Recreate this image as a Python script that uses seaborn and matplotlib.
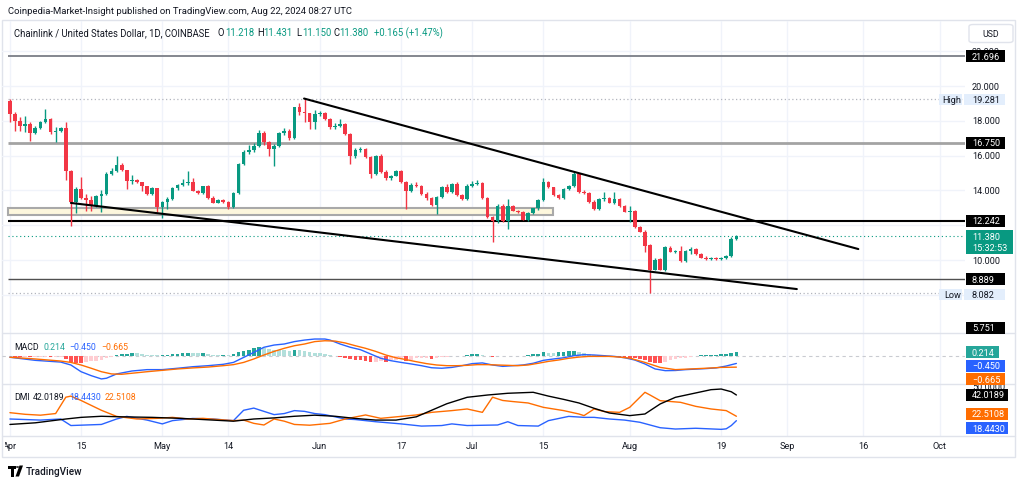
import numpy as np
import pandas as pd
import matplotlib
matplotlib.use("Agg")
import matplotlib.pyplot as plt
import seaborn as sns
from matplotlib.patches import Rectangle, FancyBboxPatch, Polygon, Circle
from matplotlib.transforms import Bbox, blended_transform_factory

# ---------------- data ----------------
start_date = "2024-04-01"
opens = [19.16,18.39,17.97,17.68,17.82,17.30,17.57,17.95,18.10,17.34,
         17.43,17.57,15.13,13.32,14.08,13.55,13.45,13.09,13.68,13.80,
         14.94,15.13,15.46,15.17,14.52,14.62,14.46,14.24,13.78,14.12,
         13.03,13.35,13.50,14.12,14.33,14.40,14.46,13.98,13.85,14.24,
         13.55,13.30,13.42,13.35,13.03,13.85,15.52,16.23,16.34,16.57,
         17.28,16.76,16.38,16.57,17.28,17.43,16.99,18.77,18.52,18.43,
         17.91,18.39,18.43,18.10,17.62,17.72,17.82,17.24,15.95,16.34,
         16.38,15.90,14.94,15.95,15.04,14.69,14.85,15.13,14.50,13.98,
         14.31,14.25,13.79,13.54,13.16,13.60,14.18,13.89,14.37,13.74,
         13.51,14.27,14.37,14.43,13.56,12.45,12.26,13.12,12.26,13.12,
         12.84,12.74,12.32,12.70,12.97,13.47,14.46,14.18,13.74,13.54,
         14.08,14.24,14.94,13.93,13.85,13.35,12.93,13.51,13.54,13.28,
         13.51,13.12,12.78,12.84,11.88,11.63,10.86,9.44,10.06,9.44,
         10.67,10.48,10.54,9.96,10.54,10.63,10.34,10.13,10.06,10.11,
         10.06,10.11,10.25,11.218]
highs = [19.28,18.49,18.20,18.29,17.91,17.68,18.01,18.68,18.14,17.63,
         17.63,17.91,15.20,14.18,14.75,13.79,13.66,13.75,14.00,15.04,
         15.26,16.00,15.57,15.20,14.89,14.65,14.50,14.28,14.20,14.16,
         13.40,13.60,14.20,14.38,14.66,15.13,14.70,14.05,14.28,14.30,
         13.65,13.50,13.50,13.40,13.90,15.60,16.30,16.60,16.70,17.45,
         17.40,16.85,16.65,17.35,17.60,17.55,18.80,19.00,19.28,18.45,
         18.64,18.55,18.50,18.15,17.85,18.10,17.90,17.30,16.45,16.50,
         16.45,15.95,16.05,16.10,15.15,14.90,15.20,15.20,14.55,14.40,
         14.50,14.30,13.90,13.60,13.70,14.25,14.35,14.45,14.50,13.80,
         14.35,14.55,14.62,14.50,13.62,12.55,13.20,13.20,13.51,13.15,
         12.90,12.80,12.75,13.00,13.50,14.69,14.55,14.22,13.80,14.15,
         14.30,15.08,15.00,14.00,13.90,13.45,13.55,13.89,13.60,13.89,
         13.55,13.15,13.09,12.90,11.95,11.70,10.90,10.10,10.10,10.80,
         10.80,10.58,10.79,10.60,10.73,10.70,10.40,10.25,10.20,10.20,
         10.20,10.30,11.30,11.431]
lows = [17.91,17.43,17.39,17.36,16.86,17.22,17.53,17.90,17.24,16.80,
        17.34,14.62,11.97,12.70,13.50,12.84,12.84,13.05,12.78,13.76,
        14.88,15.04,15.13,14.08,14.37,14.40,13.98,13.72,13.72,12.74,
        12.40,12.93,13.45,14.05,14.28,14.30,13.95,13.80,13.80,13.50,
        13.28,13.25,13.30,12.95,12.97,13.80,15.45,16.10,16.20,16.50,
        16.60,16.00,15.42,16.50,17.20,16.90,16.95,18.35,17.95,17.53,
        17.53,18.30,18.05,17.55,17.55,17.65,17.20,15.52,15.85,16.20,
        15.85,14.69,14.90,15.00,14.60,14.60,14.80,14.45,12.93,13.90,
        14.20,13.75,13.45,13.10,12.64,13.55,13.85,13.85,13.70,13.45,
        13.45,14.20,14.30,13.50,12.40,11.02,12.10,12.20,11.78,12.80,
        12.70,12.28,12.25,12.65,12.90,13.40,14.15,13.70,13.50,13.50,
        14.00,14.20,13.85,13.80,13.30,12.88,12.85,13.40,13.25,13.20,
        13.05,12.75,12.16,11.85,11.60,10.44,8.082,9.40,9.40,9.38,
        10.45,10.40,9.90,9.90,10.34,10.30,10.10,10.00,10.00,10.00,
        10.00,10.05,10.20,11.150]
closes = [18.39,17.97,17.68,17.82,17.30,17.57,17.95,18.10,17.34,17.43,
          17.57,15.13,13.32,14.08,13.55,13.45,13.09,13.68,13.80,14.94,
          15.13,15.46,15.17,14.52,14.62,14.46,14.24,13.78,14.12,13.03,
          13.35,13.50,14.12,14.33,14.40,14.46,13.98,13.85,14.24,13.55,
          13.30,13.42,13.35,13.03,13.85,15.52,16.23,16.34,16.57,17.28,
          16.76,16.38,16.57,17.28,17.43,16.99,18.77,18.52,18.43,17.91,
          18.39,18.43,18.10,17.62,17.72,17.82,17.24,15.95,16.34,16.38,
          15.90,14.94,15.95,15.04,14.69,14.85,15.13,14.50,13.98,14.31,
          14.25,13.79,13.54,13.16,13.60,14.18,13.89,14.37,13.74,13.51,
          14.27,14.37,14.43,13.56,12.45,12.26,13.12,12.26,13.12,12.84,
          12.74,12.32,12.70,12.97,13.47,14.46,14.18,13.74,13.54,14.08,
          14.24,14.94,13.93,13.85,13.35,12.93,13.51,13.54,13.28,13.51,
          13.12,12.78,12.84,11.88,11.63,10.82,9.44,10.02,9.44,10.73,
          10.48,10.54,9.96,10.54,10.63,10.34,10.13,10.06,10.11,10.06,
          10.11,10.25,11.218,11.380]

macd_hist = [-0.04,-0.06,-0.08,-0.07,-0.09,-0.08,-0.06,-0.05,-0.07,-0.06,
             -0.05,-0.19,-0.39,-0.43,-0.44,-0.35,-0.31,-0.29,-0.23,-0.15,
             -0.05,0.03,0.08,0.12,0.14,0.13,0.10,0.07,0.05,0.02,
             0.02,0.06,0.08,0.12,0.16,0.17,0.16,0.14,0.14,0.10,
             0.06,0.04,0.04,0.02,0.08,0.19,0.29,0.35,0.43,0.48,
             0.45,0.39,0.35,0.33,0.31,0.27,0.35,0.31,0.27,0.21,
             0.17,0.16,0.12,0.06,-0.04,-0.08,-0.12,-0.19,-0.23,-0.25,
             -0.29,-0.39,-0.35,-0.31,-0.35,-0.27,-0.23,-0.19,-0.31,-0.23,
             -0.15,-0.14,-0.12,-0.17,-0.12,-0.08,-0.06,-0.04,-0.04,-0.02,
             0.06,0.10,0.12,0.06,-0.04,-0.08,-0.04,-0.04,-0.02,-0.02,
             -0.02,-0.01,0.06,0.08,0.12,0.19,0.16,0.14,0.19,0.23,
             0.25,0.29,0.23,0.17,0.12,0.06,0.04,0.02,0.01,-0.02,
             -0.06,-0.10,-0.12,-0.15,-0.19,-0.27,-0.35,-0.41,-0.43,-0.35,
             -0.27,-0.21,-0.15,-0.12,-0.08,-0.04,0.02,0.04,0.05,0.06,
             0.08,0.10,0.17,0.214]

macd_days = [0,5,10,12,14,16,18,19,21,24,27,30,33,36,39,42,44,46,48,50,
             52,54,56,58,60,62,63,65,67,69,71,73,75,77,79,81,83,85,87,89,
             91,93,95,97,99,101,103,105,107,109,111,113,115,117,119,121,123,125,127,129,
             131,133,135,137,139,141,143]
macd_line = [-0.09,-0.27,-0.37,-0.54,-0.93,-1.16,-1.35,-1.31,-1.06,-0.89,
             -0.81,-0.81,-0.73,-0.64,-0.58,-0.50,-0.39,-0.10,0.19,0.49,
             0.62,0.68,0.82,0.91,0.97,0.97,0.91,0.68,0.49,0.35,
             0.10,-0.15,-0.29,-0.39,-0.48,-0.58,-0.70,-0.73,-0.68,-0.58,
             -0.46,-0.42,-0.54,-0.62,-0.58,-0.54,-0.44,-0.27,-0.19,-0.12,
             0.00,0.06,0.04,0.00,-0.04,-0.12,-0.25,-0.48,-0.77,-0.87,
             -0.86,-0.81,-0.78,-0.75,-0.71,-0.60,-0.450]
signal_days = [0,5,10,12,14,16,18,20,22,24,27,30,33,36,39,42,44,46,48,50,
               52,54,56,58,60,62,64,66,68,70,72,74,76,78,80,82,84,86,88,90,
               92,94,96,98,100,102,104,106,108,110,112,114,116,118,120,122,125,128,131,134,
               137,140,143]
signal_line = [-0.09,-0.19,-0.31,-0.39,-0.54,-0.73,-0.93,-1.06,-1.08,-1.02,
               -0.93,-0.85,-0.77,-0.71,-0.66,-0.58,-0.52,-0.39,-0.19,0.04,
               0.25,0.43,0.58,0.68,0.82,0.87,0.85,0.74,0.58,0.43,
               0.25,0.04,-0.12,-0.23,-0.35,-0.46,-0.54,-0.58,-0.58,-0.56,
               -0.52,-0.52,-0.54,-0.56,-0.58,-0.54,-0.44,-0.33,-0.25,-0.15,
               -0.08,-0.04,-0.04,-0.04,-0.08,-0.14,-0.39,-0.68,-0.81,-0.77,
               -0.73,-0.68,-0.665]

adx_days = [0,5,11,14,18,22,28,34,40,44,48,52,56,60,64,68,72,76,80,83,
            86,90,94,98,103,106,109,112,115,118,122,125,128,131,135,138,140,142,143]
adx_vals = [15,16.5,20,21.5,22.5,22,21.5,20.5,19,18,20,21,22.5,23.5,22.5,20.5,19,19,22,28,
            34,39.9,42,43.6,44.5,41,38,34.7,29.8,25.5,23.1,24.6,33.8,39.9,43.9,46.9,47.5,45,42.0189]
mdi_days = [0,3,6,9,11,12,14,18,21,25,29,32,35,38,41,44,46,48,50,52,
            54,56,59,63,66,70,73,77,80,83,87,90,93,95,97,99,102,105,109,112,
            113,115,117,120,122,125,126,128,132,135,138,141,143]
mdi_vals = [25.8,24.3,23.5,25,40,41,37,28,22.4,20,20.6,21.5,20,20.6,19.5,18.5,19,16,14.5,20,
            18,15,14.3,16,20,23.7,20.6,22.4,23.7,26.1,27.7,29.2,26.1,40,37,36,34.7,30.7,27.7,24.6,
            23.1,29.2,26.8,26.1,30.7,44.5,42,36.8,35.3,31.6,29.2,27.7,22.5108]
pdi_days = [0,6,10,12,15,18,21,23,27,30,32,36,40,44,46,48,50,52,54,56,
            58,60,62,64,66,68,72,77,81,85,87,90,96,98,100,104,106,110,113,115,
            118,121,124,128,131,135,140,141,142,143]
pdi_vals = [20,19,20,14,14.5,15,20,22.4,19,15.5,18.5,20.5,20,18.5,28,30,27,24,25,27.7,
            27,25,24,22,20,19.5,17.5,15.5,13.5,14,15.5,14,14.5,17.5,14,13.5,18.5,22.4,21.5,21.5,
            20,19,17,12,10.8,11.5,10.5,11,14,18.443]

levels = [21.696, 16.750, 12.242, 8.889]
level_colors = ['#7b7e87', '#a3a3a3', '#000000', '#505050']
level_widths = [1.3, 2.0, 1.5, 1.0]
high_val, low_val, last_val, bottom_level = 19.281, 8.082, 11.380, 5.751
zone_days = [-0.4, 106.9]
zone_prices = [12.59, 12.99]
upper_trend_days = [57.9, 167.0]
upper_trend_prices = [19.28, 10.63]
lower_trend_days = [12.0, 154.9]
lower_trend_prices = [13.28, 8.33]
price_ticks = [22, 20, 18, 16, 14, 10]
tick_days = [0, 14, 30, 43, 61, 77, 91, 105, 122, 140, 153, 168, 183]
tick_labels = ["Apr", "15", "May", "14", "Jun", "17", "Jul", "15", "Aug", "19", "Sep", "16", "Oct"]

# ---------------- styling ----------------
W, H = 1024, 485
sns.set_theme(style="white")
plt.rcParams['font.family'] = ['Roboto', 'DejaVu Sans']
TXT = '#131722'
GREEN = '#089981'
RED = '#f23645'
BLUE = '#2962ff'
ORANGE = '#ff6d00'
GRID = '#f0f3fa'
BORDER = '#e0e3eb'
FS = 6.6
FSL = 6.3

fig = plt.figure(figsize=(W / 100, H / 100), dpi=100)
fig.patch.set_facecolor('white')


def rect(x0, y0, x1, y1):
    return [x0 / W, 1 - y1 / H, (x1 - x0) / W, (y1 - y0) / H]


def fx(x):
    return x / W


def fy(y):
    return 1 - y / H


XLIM = (-1.56, 188.0)
ax = fig.add_axes(rect(2, 22, 965, 334))
axm = fig.add_axes(rect(2, 334, 965, 385))
axd = fig.add_axes(rect(2, 385, 965, 437))
for a in (ax, axm, axd):
    a.set_xlim(*XLIM)
    a.set_facecolor('none')
    a.set_xticks([])
    a.set_yticks([])
    for s in a.spines.values():
        s.set_visible(False)
ax.set_ylim(5.805, 23.736)
axm.set_ylim(-1.645, 1.32)
axd.set_ylim(4.40, 52.11)

dates = pd.date_range(start_date, periods=len(opens), freq="D")
x = np.asarray((dates - dates[0]).days, dtype=float)
o, h, l, c = (np.asarray(v, dtype=float) for v in (opens, highs, lows, closes))

# grid
for v in price_ticks + [12, 8]:
    ax.axhline(v, color=GRID, lw=1, zorder=0)
for a in (ax, axm, axd):
    for d in tick_days:
        a.axvline(d, color=GRID, lw=1, zorder=0)

# zone
ax.add_patch(Rectangle((zone_days[0], zone_prices[0]), zone_days[1] - zone_days[0],
                       zone_prices[1] - zone_prices[0], fc='#fdf7dd', ec='#a9a9a9', lw=1.5, zorder=1))

# horizontal levels
for lv, lc, lw in zip(levels, level_colors, level_widths):
    ax.hlines(lv, -0.4, XLIM[1], color=lc, lw=lw, zorder=2)
ax.hlines(high_val, -0.4, XLIM[1], color='#b2b5be', lw=0.9, ls=(0, (1, 2)), zorder=1)
ax.hlines(low_val, -0.4, XLIM[1], color='#b2b5be', lw=0.9, ls=(0, (1, 2)), zorder=1)
ax.hlines(last_val, -0.4, XLIM[1], color=GREEN, lw=0.8, ls=(0, (1, 2.5)), zorder=1)

# candles
up = c >= o
cols = np.where(up, GREEN, RED)
ax.vlines(x, l, h, colors=cols, lw=1, zorder=3)
ax.bar(x, np.maximum(np.abs(c - o), 0.04), bottom=np.minimum(o, c), width=0.72,
       color=cols, edgecolor='none', zorder=4)

# trendlines
sns.lineplot(x=upper_trend_days, y=upper_trend_prices, ax=ax, color='black', lw=1.5, zorder=5)
sns.lineplot(x=lower_trend_days, y=lower_trend_prices, ax=ax, color='black', lw=1.5, zorder=5)

# MACD pane
hist = np.asarray(macd_hist)
hcols = []
for i, v in enumerate(hist):
    prev = hist[i - 1] if i > 0 else v
    if v >= 0:
        hcols.append('#26a69a' if v >= prev else '#b2dfdb')
    else:
        hcols.append('#ff5252' if v <= prev else '#ffcdd2')
axm.axhline(0, color='#c9cbd1', lw=0.8, ls=(0, (3, 3)), zorder=1)
axm.bar(x, hist, width=0.72, color=hcols, edgecolor='none', zorder=2)
sns.lineplot(x=macd_days, y=macd_line, ax=axm, color=BLUE, lw=1, zorder=3)
sns.lineplot(x=signal_days, y=signal_line, ax=axm, color=ORANGE, lw=1, zorder=3)

# DMI pane
sns.lineplot(x=pdi_days, y=pdi_vals, ax=axd, color=BLUE, lw=1, zorder=3)
sns.lineplot(x=mdi_days, y=mdi_vals, ax=axd, color=ORANGE, lw=1, zorder=3)
sns.lineplot(x=adx_days, y=adx_vals, ax=axd, color='black', lw=1, zorder=4)
for a in (ax, axm, axd):
    a.set_xlabel('')
    a.set_ylabel('')
    a.set_xlim(*XLIM)

# frame and separators
fig.add_artist(Rectangle((fx(1.5), fy(458)), (1015 - 1.5) / W, (458 - 21) / H, transform=fig.transFigure,
                         fc='none', ec=BORDER, lw=1, zorder=0))
for yy in (334, 385, 437):
    fig.add_artist(plt.Line2D([fx(1.5), fx(1015)], [fy(yy), fy(yy)], transform=fig.transFigure,
                              color=BORDER, lw=1, zorder=1))

# header
fig.text(fx(8), fy(12), "Coinpedia-Market-Insight published on TradingView.com, Aug 22, 2024 08:27 UTC",
         fontsize=6.8, color=TXT, va='center', ha='left')
segs = [("Chainlink / United States Dollar, 1D, COINBASE", 14, TXT), ("O", 217, TXT), ("11.218", 225, GREEN),
        ("H", 257, TXT), ("11.431", 263, GREEN), ("L", 296, TXT), ("11.150", 302, GREEN),
        ("C", 333, TXT), ("11.380", 339, GREEN), ("+0.165 (+1.47%)", 374, GREEN)]
for t, xx, col in segs:
    fig.text(fx(xx), fy(33), t, fontsize=6.85, color=col, va='center', ha='left')


def ypx(axis, v):
    return H - axis.transData.transform((0, v))[1]


# price axis tick labels (the top one peeks out above the 21.696 label box)
for v in price_ticks:
    t = fig.text(fx(972), fy(ypx(ax, v)), f"{v:.3f}", fontsize=FS, color=TXT, va='center', ha='left', zorder=3)
    if v == 22:
        t.set_clip_box(Bbox([[960, H - 50.5], [1015, H - 40]]))
        t.set_clip_on(True)


def box(y, text, fc, tc='white', x0=966, x1=1005, hh=12, tx=972):
    fig.add_artist(Rectangle((fx(x0), fy(y + hh / 2)), (x1 - x0) / W, hh / H, transform=fig.transFigure,
                             fc=fc, ec='none', zorder=5))
    fig.text(fx(tx), fy(y), text, fontsize=FS, color=tc, va='center', ha='left', zorder=6)


for lv in levels:
    box(ypx(ax, lv), f"{lv:.3f}", 'black')
box(ypx(ax, bottom_level) - 6, f"{bottom_level:.3f}", 'black')
# high / low
for val, name in ((high_val, "High"), (low_val, "Low")):
    yy = ypx(ax, val) + 1
    fig.add_artist(Rectangle((fx(939), fy(yy + 5.5)), 23 / W, 11 / H, transform=fig.transFigure,
                             fc='#e3eefc', ec='none', zorder=5))
    fig.text(fx(942 if name == "High" else 944), fy(yy), name, fontsize=FS, color=TXT, va='center', zorder=6)
    box(yy, f"{val:.3f}", '#e3eefc', tc=TXT, x0=963.5, hh=11)
# last price with countdown
yl = ypx(ax, last_val)
fig.add_artist(Rectangle((fx(966), fy(yl + 18)), 47 / W, 23.5 / H, transform=fig.transFigure,
                         fc=GREEN, ec='none', zorder=5))
fig.text(fx(972), fy(yl + 1), f"{last_val:.3f}", fontsize=FS, color='white', va='center', zorder=6)
fig.text(fx(972), fy(yl + 12), "15:32:53", fontsize=FS, color='white', va='center', zorder=6)
# USD box
fig.add_artist(FancyBboxPatch((fx(969), fy(43.5)), 44 / W, 18 / H, boxstyle="round,pad=0,rounding_size=0.004",
                              transform=fig.transFigure, fc='white', ec=BORDER, lw=1, zorder=5))
fig.text(fx(991), fy(34.5), "USD", fontsize=6.3, color=TXT, va='center', ha='center', zorder=6)

# MACD labels
fig.text(fx(14), fy(347), "MACD", fontsize=FSL, color=TXT, va='center')
fig.text(fx(44), fy(347), f"{macd_hist[-1]:.3f}", fontsize=FSL, color='#26a69a', va='center')
fig.text(fx(69), fy(347), f"{macd_line[-1]:.3f}".replace('-', '\u2212'), fontsize=FSL, color=BLUE, va='center')
fig.text(fx(101), fy(347), f"{signal_line[-1]:.3f}".replace('-', '\u2212'), fontsize=FSL, color=ORANGE, va='center')
ym0 = ypx(axm, macd_hist[-1])
box(ym0, f"{macd_hist[-1]:.3f}", '#26a69a', x1=999)
box(ym0 + 13.5, f"{macd_line[-1]:.3f}".replace('-', '\u2212'), BLUE)
box(ym0 + 27, f"{signal_line[-1]:.3f}".replace('-', '\u2212'), ORANGE)

# DMI labels
fig.text(fx(14), fy(398), "DMI", fontsize=FSL, color=TXT, va='center')
fig.text(fx(33), fy(398), f"{adx_vals[-1]:.4f}", fontsize=FSL, color=TXT, va='center')
fig.text(fx(69), fy(398), f"{pdi_vals[-1]:.4f}", fontsize=FSL, color=BLUE, va='center')
fig.text(fx(105), fy(398), f"{mdi_vals[-1]:.4f}", fontsize=FSL, color=ORANGE, va='center')
t50 = fig.text(fx(972), fy(ypx(axd, 50)), "50.0000", fontsize=FS, color=TXT, va='center', zorder=3)
t50.set_clip_box(Bbox([[960, H - 390.5], [1015, H - 386]]))
t50.set_clip_on(True)
yd = ypx(axd, adx_vals[-1])
box(yd, f"{adx_vals[-1]:.4f}", 'black', x1=1008)
box(yd + 19, f"{mdi_vals[-1]:.4f}", ORANGE, x1=1008)
box(yd + 33.5, f"{pdi_vals[-1]:.4f}", BLUE, x1=1008)

# time axis labels
clipbox = Bbox([[5, 0], [965, H]])
tr = blended_transform_factory(axd.transData, fig.transFigure)
for d, t in zip(tick_days, tick_labels):
    tt = fig.text(d, fy(447), t, transform=tr, fontsize=FS, color=TXT, ha='center', va='center')
    tt.set_clip_box(clipbox)
    tt.set_clip_on(True)

# TradingView logo
fig.add_artist(Polygon([[fx(8), fy(466.5)], [fx(15.5), fy(466.5)], [fx(15.5), fy(469.5)], [fx(13.5), fy(469.5)],
                        [fx(13.5), fy(477.5)], [fx(10.5), fy(477.5)], [fx(10.5), fy(469.5)], [fx(8), fy(469.5)]],
                       closed=True, transform=fig.transFigure, fc='black', ec='none'))
fig.add_artist(Circle((fx(17.5), fy(468)), 1.6 / W, transform=fig.transFigure, fc='black', ec='none'))
fig.add_artist(Polygon([[fx(19.5), fy(466.5)], [fx(23), fy(466.5)], [fx(19), fy(477.5)], [fx(15.5), fy(477.5)]],
                       closed=True, transform=fig.transFigure, fc='black', ec='none'))
fig.text(fx(26), fy(472), "TradingView", fontsize=7.2, color=TXT, va='center', ha='left', fontweight='medium')

fig.savefig("out.png", dpi=100, facecolor='white')
